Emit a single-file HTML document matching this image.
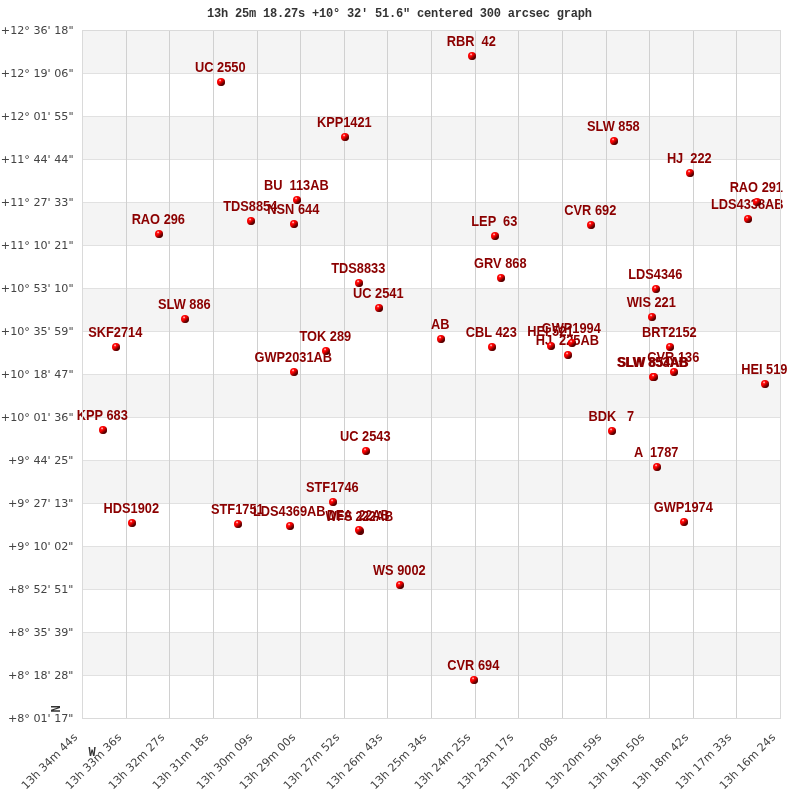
<!DOCTYPE html>
<html lang="en">
<head>
<meta charset="utf-8">
<title>13h 25m 18.27s +10° 32′ 51.6" centered 300 arcsec graph</title>
<style>
html,body{margin:0;padding:0;background:#fff;}
body{width:800px;height:800px;overflow:hidden;}
svg{display:block;}
.yl{font-family:"DejaVu Sans","Liberation Sans",sans-serif;font-size:11.15px;fill:#444444;text-anchor:end;}
.xl{font-family:"DejaVu Sans","Liberation Sans",sans-serif;font-size:11.2px;fill:#444444;text-anchor:end;}
.pl{font-family:"Liberation Sans",sans-serif;font-weight:bold;font-size:14px;fill:#8b0000;text-anchor:middle;white-space:pre;}
.tt{font-family:"Liberation Mono","DejaVu Sans Mono",monospace;font-weight:bold;font-size:12px;fill:#333;white-space:pre;}
.g{stroke:#d4d4d4;stroke-width:1;shape-rendering:crispEdges;fill:none;}
</style>
</head>
<body>
<svg width="800" height="800" viewBox="0 0 800 800">
<defs><radialGradient id="ball" cx="0.36" cy="0.34" r="0.72"><stop offset="0" stop-color="#ff2424"/><stop offset="0.35" stop-color="#ff0000"/><stop offset="0.7" stop-color="#e20000"/><stop offset="1" stop-color="#bc0000"/></radialGradient><linearGradient id="sh" x1="0.1" y1="0.05" x2="0.9" y2="0.95"><stop offset="0" stop-color="#200000" stop-opacity="0"/><stop offset="0.45" stop-color="#200000" stop-opacity="0"/><stop offset="0.62" stop-color="#200000" stop-opacity="0.35"/><stop offset="0.8" stop-color="#200000" stop-opacity="0.7"/><stop offset="1" stop-color="#200000" stop-opacity="0.8"/></linearGradient><radialGradient id="hl"><stop offset="0" stop-color="#ffffff" stop-opacity="0.8"/><stop offset="0.5" stop-color="#ffffff" stop-opacity="0.45"/><stop offset="1" stop-color="#ffffff" stop-opacity="0"/></radialGradient><g id="m"><circle r="4" fill="url(#ball)"/><circle r="4" fill="url(#sh)"/><circle cx="-0.9" cy="-1.6" r="1.4" fill="url(#hl)"/></g></defs>
<rect x="0" y="0" width="800" height="800" fill="#ffffff"/>
<rect x="82" y="30" width="699" height="43" fill="#f4f4f4" shape-rendering="crispEdges"/>
<rect x="82" y="116" width="699" height="43" fill="#f4f4f4" shape-rendering="crispEdges"/>
<rect x="82" y="202" width="699" height="43" fill="#f4f4f4" shape-rendering="crispEdges"/>
<rect x="82" y="288" width="699" height="43" fill="#f4f4f4" shape-rendering="crispEdges"/>
<rect x="82" y="374" width="699" height="43" fill="#f4f4f4" shape-rendering="crispEdges"/>
<rect x="82" y="460" width="699" height="43" fill="#f4f4f4" shape-rendering="crispEdges"/>
<rect x="82" y="546" width="699" height="43" fill="#f4f4f4" shape-rendering="crispEdges"/>
<rect x="82" y="632" width="699" height="43" fill="#f4f4f4" shape-rendering="crispEdges"/>
<path class="g" style="stroke:#e1e1e1" d="M82 73.5 H781 M82 116.5 H781 M82 159.5 H781 M82 202.5 H781 M82 245.5 H781 M82 288.5 H781 M82 331.5 H781 M82 374.5 H781 M82 417.5 H781 M82 460.5 H781 M82 503.5 H781 M82 546.5 H781 M82 589.5 H781 M82 632.5 H781 M82 675.5 H781"/>
<path class="g" style="stroke:#d0d0d0" d="M126.5 30 V719 M169.5 30 V719 M213.5 30 V719 M257.5 30 V719 M300.5 30 V719 M344.5 30 V719 M387.5 30 V719 M431.5 30 V719 M475.5 30 V719 M518.5 30 V719 M562.5 30 V719 M606.5 30 V719 M649.5 30 V719 M693.5 30 V719 M736.5 30 V719"/>
<text class="tt" xml:space="preserve" x="207" y="17" textLength="385" lengthAdjust="spacing">13h 25m 18.27s +10° 32′ 51.6&quot; centered 300 arcsec graph</text>
<use href="#m" x="474" y="680"/><text class="pl" xml:space="preserve" transform="translate(473.3 670) scale(0.915 1)">CVR 694</text>
<use href="#m" x="400" y="585"/><text class="pl" xml:space="preserve" transform="translate(399.3 575) scale(0.915 1)">WS 9002</text>
<use href="#m" x="360" y="531"/><text class="pl" xml:space="preserve" transform="translate(359.3 521) scale(0.8601 1)">WFS 222AB</text>
<use href="#m" x="359" y="530"/><text class="pl" xml:space="preserve" transform="translate(358.3 520) scale(0.8601 1)">DEA  22AB</text>
<use href="#m" x="290" y="526"/><text class="pl" xml:space="preserve" transform="translate(289.3 516) scale(0.915 1)">LDS4369AB</text>
<use href="#m" x="238" y="524"/><text class="pl" xml:space="preserve" transform="translate(237.3 514) scale(0.915 1)">STF1751</text>
<use href="#m" x="132" y="523"/><text class="pl" xml:space="preserve" transform="translate(131.3 513) scale(0.915 1)">HDS1902</text>
<use href="#m" x="684" y="522"/><text class="pl" xml:space="preserve" transform="translate(683.3 512) scale(0.915 1)">GWP1974</text>
<use href="#m" x="333" y="502"/><text class="pl" xml:space="preserve" transform="translate(332.3 492) scale(0.915 1)">STF1746</text>
<use href="#m" x="657" y="467"/><text class="pl" xml:space="preserve" transform="translate(656.3 457) scale(0.915 1)">A  1787</text>
<use href="#m" x="366" y="451"/><text class="pl" xml:space="preserve" transform="translate(365.3 441) scale(0.915 1)">UC 2543</text>
<use href="#m" x="612" y="431"/><text class="pl" xml:space="preserve" transform="translate(611.3 421) scale(0.915 1)">BDK   7</text>
<use href="#m" x="103" y="430"/><text class="pl" xml:space="preserve" transform="translate(102.3 420) scale(0.915 1)">KPP 683</text>
<use href="#m" x="765" y="384"/><text class="pl" xml:space="preserve" transform="translate(764.3 374) scale(0.915 1)">HEI 519</text>
<use href="#m" x="653" y="377"/><text class="pl" xml:space="preserve" transform="translate(652.3 367) scale(0.915 1)">SLW 853AB</text>
<use href="#m" x="654" y="377"/><text class="pl" xml:space="preserve" transform="translate(653.3 367) scale(0.915 1)">SLW 854AB</text>
<use href="#m" x="294" y="372"/><text class="pl" xml:space="preserve" transform="translate(293.3 362) scale(0.915 1)">GWP2031AB</text>
<use href="#m" x="674" y="372"/><text class="pl" xml:space="preserve" transform="translate(673.3 362) scale(0.915 1)">CVR 136</text>
<use href="#m" x="568" y="355"/><text class="pl" xml:space="preserve" transform="translate(567.3 345) scale(0.915 1)">HJ  225AB</text>
<use href="#m" x="326" y="351"/><text class="pl" xml:space="preserve" transform="translate(325.3 341) scale(0.915 1)">TOK 289</text>
<use href="#m" x="116" y="347"/><text class="pl" xml:space="preserve" transform="translate(115.3 337) scale(0.915 1)">SKF2714</text>
<use href="#m" x="492" y="347"/><text class="pl" xml:space="preserve" transform="translate(491.3 337) scale(0.915 1)">CBL 423</text>
<use href="#m" x="670" y="347"/><text class="pl" xml:space="preserve" transform="translate(669.3 337) scale(0.915 1)">BRT2152</text>
<use href="#m" x="551" y="346"/><text class="pl" xml:space="preserve" transform="translate(550.3 336) scale(0.915 1)">HEI 521</text>
<use href="#m" x="572" y="343"/><text class="pl" xml:space="preserve" transform="translate(571.3 333) scale(0.915 1)">GWP1994</text>
<use href="#m" x="441" y="339"/><text class="pl" xml:space="preserve" transform="translate(440.3 329) scale(0.915 1)">AB</text>
<use href="#m" x="185" y="319"/><text class="pl" xml:space="preserve" transform="translate(184.3 309) scale(0.915 1)">SLW 886</text>
<use href="#m" x="652" y="317"/><text class="pl" xml:space="preserve" transform="translate(651.3 307) scale(0.915 1)">WIS 221</text>
<use href="#m" x="379" y="308"/><text class="pl" xml:space="preserve" transform="translate(378.3 298) scale(0.915 1)">UC 2541</text>
<use href="#m" x="656" y="289"/><text class="pl" xml:space="preserve" transform="translate(655.3 279) scale(0.915 1)">LDS4346</text>
<use href="#m" x="359" y="283"/><text class="pl" xml:space="preserve" transform="translate(358.3 273) scale(0.915 1)">TDS8833</text>
<use href="#m" x="501" y="278"/><text class="pl" xml:space="preserve" transform="translate(500.3 268) scale(0.915 1)">GRV 868</text>
<use href="#m" x="495" y="236"/><text class="pl" xml:space="preserve" transform="translate(494.3 226) scale(0.915 1)">LEP  63</text>
<use href="#m" x="159" y="234"/><text class="pl" xml:space="preserve" transform="translate(158.3 224) scale(0.915 1)">RAO 296</text>
<use href="#m" x="591" y="225"/><text class="pl" xml:space="preserve" transform="translate(590.3 215) scale(0.915 1)">CVR 692</text>
<use href="#m" x="294" y="224"/><text class="pl" xml:space="preserve" transform="translate(293.3 214) scale(0.915 1)">NSN 644</text>
<use href="#m" x="251" y="221"/><text class="pl" xml:space="preserve" transform="translate(250.3 211) scale(0.915 1)">TDS8854</text>
<use href="#m" x="748" y="219"/><text class="pl" xml:space="preserve" transform="translate(747.3 209) scale(0.915 1)">LDS4338AB</text>
<use href="#m" x="757" y="202"/><text class="pl" xml:space="preserve" transform="translate(756.3 192) scale(0.915 1)">RAO 291</text>
<use href="#m" x="297" y="200"/><text class="pl" xml:space="preserve" transform="translate(296.3 190) scale(0.915 1)">BU  113AB</text>
<use href="#m" x="690" y="173"/><text class="pl" xml:space="preserve" transform="translate(689.3 163) scale(0.915 1)">HJ  222</text>
<use href="#m" x="614" y="141"/><text class="pl" xml:space="preserve" transform="translate(613.3 131) scale(0.915 1)">SLW 858</text>
<use href="#m" x="345" y="137"/><text class="pl" xml:space="preserve" transform="translate(344.3 127) scale(0.915 1)">KPP1421</text>
<use href="#m" x="221" y="82"/><text class="pl" xml:space="preserve" transform="translate(220.3 72) scale(0.915 1)">UC 2550</text>
<use href="#m" x="472" y="56"/><text class="pl" xml:space="preserve" transform="translate(471.3 46) scale(0.915 1)">RBR  42</text>
<rect class="g" style="stroke:#dadada" x="82.5" y="30.5" width="698" height="688"/>
<text class="yl" x="73.5" y="34">+12° 36' 18&quot;</text>
<text class="yl" x="73.5" y="77">+12° 19' 06&quot;</text>
<text class="yl" x="73.5" y="120">+12° 01' 55&quot;</text>
<text class="yl" x="73.5" y="163">+11° 44' 44&quot;</text>
<text class="yl" x="73.5" y="206">+11° 27' 33&quot;</text>
<text class="yl" x="73.5" y="249">+11° 10' 21&quot;</text>
<text class="yl" x="73.5" y="292">+10° 53' 10&quot;</text>
<text class="yl" x="73.5" y="335">+10° 35' 59&quot;</text>
<text class="yl" x="73.5" y="378">+10° 18' 47&quot;</text>
<text class="yl" x="73.5" y="421">+10° 01' 36&quot;</text>
<text class="yl" x="73.5" y="464">+9° 44' 25&quot;</text>
<text class="yl" x="73.5" y="507">+9° 27' 13&quot;</text>
<text class="yl" x="73.5" y="550">+9° 10' 02&quot;</text>
<text class="yl" x="73.5" y="593">+8° 52' 51&quot;</text>
<text class="yl" x="73.5" y="636">+8° 35' 39&quot;</text>
<text class="yl" x="73.5" y="679">+8° 18' 28&quot;</text>
<text class="yl" x="73.5" y="722">+8° 01' 17&quot;</text>
<text class="xl" transform="translate(78 738) rotate(-45)">13h 34m 44s</text>
<text class="xl" transform="translate(122 738) rotate(-45)">13h 33m 36s</text>
<text class="xl" transform="translate(165 738) rotate(-45)">13h 32m 27s</text>
<text class="xl" transform="translate(209 738) rotate(-45)">13h 31m 18s</text>
<text class="xl" transform="translate(253 738) rotate(-45)">13h 30m 09s</text>
<text class="xl" transform="translate(296 738) rotate(-45)">13h 29m 00s</text>
<text class="xl" transform="translate(340 738) rotate(-45)">13h 27m 52s</text>
<text class="xl" transform="translate(383 738) rotate(-45)">13h 26m 43s</text>
<text class="xl" transform="translate(427 738) rotate(-45)">13h 25m 34s</text>
<text class="xl" transform="translate(471 738) rotate(-45)">13h 24m 25s</text>
<text class="xl" transform="translate(514 738) rotate(-45)">13h 23m 17s</text>
<text class="xl" transform="translate(558 738) rotate(-45)">13h 22m 08s</text>
<text class="xl" transform="translate(602 738) rotate(-45)">13h 20m 59s</text>
<text class="xl" transform="translate(645 738) rotate(-45)">13h 19m 50s</text>
<text class="xl" transform="translate(689 738) rotate(-45)">13h 18m 42s</text>
<text class="xl" transform="translate(732 738) rotate(-45)">13h 17m 33s</text>
<text class="xl" transform="translate(776 738) rotate(-45)">13h 16m 24s</text>
<text class="tt" transform="translate(60.4 712.5) rotate(-90)">N</text>
<text class="tt" x="88.5" y="756">W</text>
</svg>
</body>
</html>
